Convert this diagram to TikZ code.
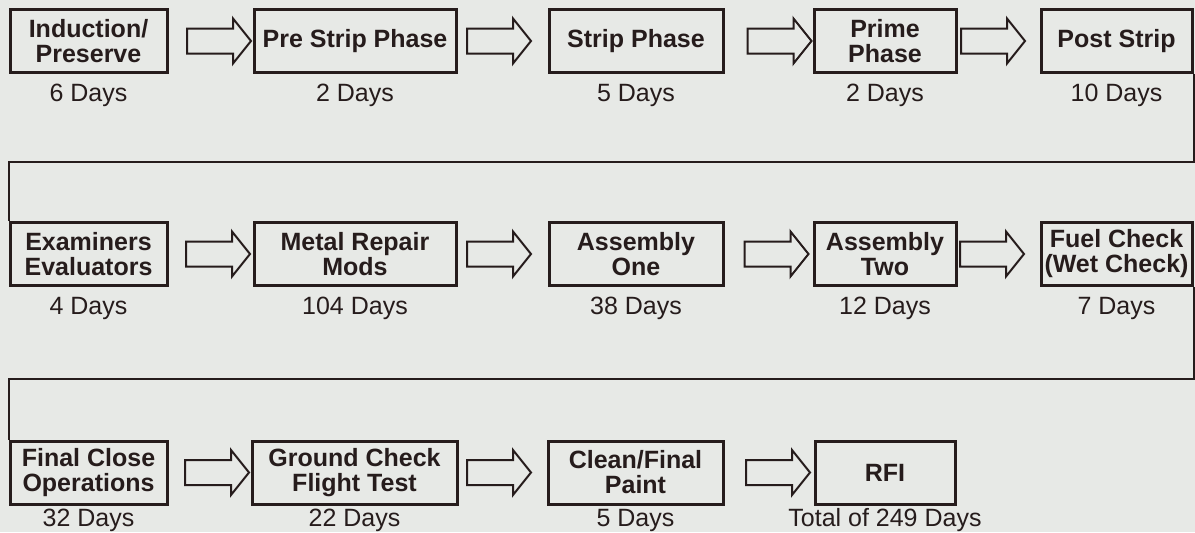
\documentclass[tikz,border=0pt]{standalone}
\usepackage{fontspec}
\setmainfont{Liberation Sans}
\usetikzlibrary{calc}

\definecolor{paper}{RGB}{231,233,230}
\definecolor{ink}{RGB}{38,28,28}

\begin{document}
\begin{tikzpicture}[x=0.5pt,y=-0.5pt,
    phase/.style={rectangle,draw=ink,line width=1.5pt,fill=paper,minimum height=31.5pt,
      inner sep=0pt,align=center,text=ink,font=\bfseries\fontsize{12.5}{12.5}\selectfont},
    days/.style={anchor=base,inner sep=0pt,text=ink,font=\fontsize{12.5}{15}\selectfont},
    link/.style={draw=ink,line width=1pt},
    blockarrow/.pic={
      \draw[draw=ink,line width=1pt,fill=paper,line join=miter]
        (-32,-12.5) -- (14,-12.5) -- (14,-22.5) -- (32,0) -- (14,22.5) -- (14,12.5) -- (-32,12.5) -- cycle;
    }]
          \fill[paper] (0,0) rectangle (1195,532);
          \useasboundingbox (0,0) rectangle (1195,532);

          % first row
          \node[phase,minimum width=78.5pt] (ind) at (88.5,41) {Induction/\\Preserve};
          \node[phase,minimum width=101pt] (pre) at (355,41) {Pre Strip Phase};
          \node[phase,minimum width=87pt] (strip) at (636,41) {Strip Phase};
          \node[phase,minimum width=71pt] (prime) at (885,41) {Prime\\Phase};
          \node[phase,minimum width=75.5pt] (post) at (1116.5,41) {Post Strip};

          % second row
          \node[phase,minimum width=78.5pt] (exam) at (88.5,254) {Examiners\\Evaluators};
          \node[phase,minimum width=101pt] (metal) at (355,254) {Metal Repair\\Mods};
          \node[phase,minimum width=87pt] (asmone) at (636,254) {Assembly\\One};
          \node[phase,minimum width=71pt] (asmtwo) at (885,254) {Assembly\\Two};
          \node[phase,minimum width=75.5pt] (fuel) at (1116.5,254) {Fuel Check\\(Wet Check)};

          % third row
          \node[phase,minimum width=78.5pt] (final) at (88.5,472.5) {Final Close\\Operations};
          \node[phase,minimum width=102.5pt] (ground) at (354.5,472.5) {Ground Check\\Flight Test};
          \node[phase,minimum width=87.5pt] (clean) at (635.5,472.5) {Clean/Final\\Paint};
          \node[phase,minimum width=70pt] (rfi) at (885,472.5) {RFI};

          % durations
          \node[days] (dind) at ([yshift=-13.5pt]ind.south) {6 Days};
          \node[days] (dpre) at ([yshift=-13.5pt]pre.south) {2 Days};
          \node[days] (dstrip) at ([yshift=-13.5pt]strip.south) {5 Days};
          \node[days] (dprime) at ([yshift=-13.5pt]prime.south) {2 Days};
          \node[days] (dpost) at ([yshift=-13.5pt]post.south) {10 Days};
          \node[days] (dexam) at ([yshift=-13.5pt]exam.south) {4 Days};
          \node[days] (dmetal) at ([yshift=-13.5pt]metal.south) {104 Days};
          \node[days] (dasmone) at ([yshift=-13.5pt]asmone.south) {38 Days};
          \node[days] (dasmtwo) at ([yshift=-13.5pt]asmtwo.south) {12 Days};
          \node[days] (dfuel) at ([yshift=-13.5pt]fuel.south) {7 Days};
          \node[days] (dfinal) at ([yshift=-10.5pt]final.south) {32 Days};
          \node[days] (dground) at ([yshift=-10.5pt]ground.south) {22 Days};
          \node[days] (dclean) at ([yshift=-10.5pt]clean.south) {5 Days};
          \node[days] (drfi) at ([yshift=-10.5pt]rfi.south) {Total of 249 Days};

          % block arrows between phases
          \foreach \a/\b/\d in {ind/pre/8.5,pre/strip/-3.5,strip/prime/11,prime/post/-5.5,
                                exam/metal/7.5,metal/asmone/-3.5,asmone/asmtwo/8,asmtwo/fuel/-6.5,
                                final/ground/7.5,ground/clean/-3.5,clean/rfi/9}
            \pic at ($(\a.east)!0.5!(\b.west)+(\d,0)$) {blockarrow};

          % row links
          \draw[link] (post.south east) -- ++(0,88) -| (exam.north west);
          \draw[link] (fuel.south east) -- ++(0,92) -| (final.north west);
\end{tikzpicture}
\end{document}
